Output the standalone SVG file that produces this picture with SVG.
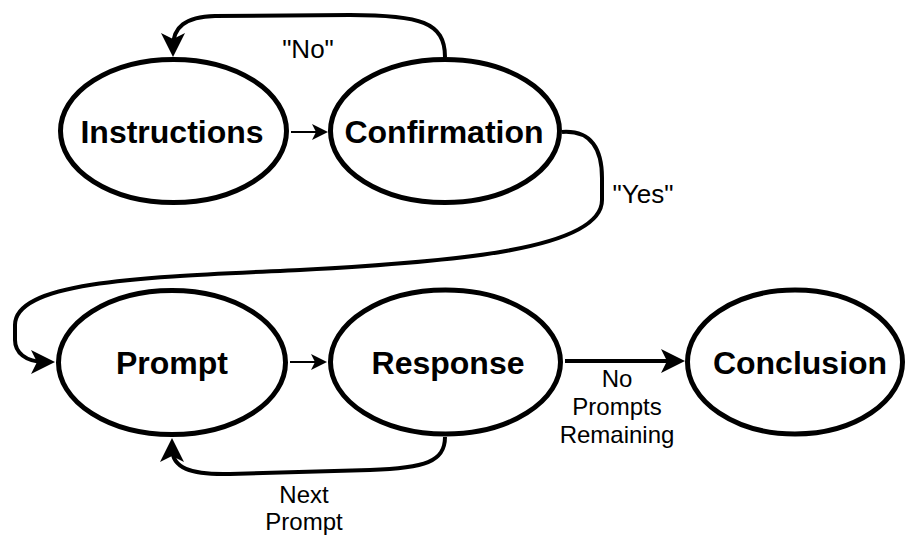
<svg xmlns="http://www.w3.org/2000/svg" width="907" height="537" viewBox="0 0 907 537">
<style>
.node ellipse{fill:#fff;stroke:#000;stroke-width:5}
.node text{font-family:"Liberation Sans",Arial,sans-serif;font-weight:bold;font-size:32px;text-anchor:middle;fill:#000}
.edge{fill:none;stroke:#000;stroke-width:4}
.thin{fill:none;stroke:#000;stroke-width:2}
.lbl{font-family:"Liberation Sans",Arial,sans-serif;font-size:24px;text-anchor:middle;fill:#000}
.q{font-size:26px}
</style>
<defs>
<marker id="big" markerUnits="userSpaceOnUse" viewBox="-16 -14 28 28" markerWidth="28" markerHeight="28" refX="0" refY="0" orient="auto">
<path d="M10,0 L-14,-12 L-8,0 L-14,12 Z" fill="#000"/>
</marker>
<marker id="small" markerUnits="userSpaceOnUse" viewBox="-10 -10 20 20" markerWidth="20" markerHeight="20" refX="0" refY="0" orient="auto">
<path d="M8,0 L-8,-8 L-4,0 L-8,8 Z" fill="#000"/>
</marker>
</defs>
<rect width="907" height="537" fill="#fff"/>
<g id="connectors">
<path class="edge" d="M445,57 C445,22 420,15 350,15 L215,16 C185,17 173,27 173,47" marker-end="url(#big)"/>
<path class="thin" d="M291,132 L320,132" marker-end="url(#small)"/>
<path class="edge" d="M562,132 C592,130 602,150 602,178 L602,200 C602,250 450,262 300,270 C150,277 15,280 15,325 L15,340 C15,352 25,362 45,362" marker-end="url(#big)"/>
<path class="thin" d="M290,362 L319,362" marker-end="url(#small)"/>
<path class="edge" d="M565,361 L675,361" marker-end="url(#big)"/>
<path class="edge" d="M445,437 C445,462 425,468 370,470 L230,474 C190,475 172,468 172,448" marker-end="url(#big)"/>
<text class="lbl q" x="308" y="58">"No"</text>
<text class="lbl q" x="643" y="203">"Yes"</text>
<text class="lbl" x="617" y="387">No</text>
<text class="lbl" x="617" y="415">Prompts</text>
<text class="lbl" x="617" y="443">Remaining</text>
<text class="lbl" x="304" y="503">Next</text>
<text class="lbl" x="304" y="530">Prompt</text>
</g>
<g id="instructions" class="node"><ellipse cx="173.5" cy="131" rx="113" ry="71.5"/><text x="172" y="143">Instructions</text></g>
<g id="confirmation" class="node"><ellipse cx="445" cy="131" rx="114.5" ry="71.5"/><text x="444" y="143">Confirmation</text></g>
<g id="prompt" class="node"><ellipse cx="172" cy="362.5" rx="113.5" ry="72"/><text x="172" y="374">Prompt</text></g>
<g id="response" class="node"><ellipse cx="445.5" cy="362" rx="115" ry="72"/><text x="448" y="374">Response</text></g>
<g id="conclusion" class="node"><ellipse cx="795" cy="362" rx="107.5" ry="72"/><text x="800" y="374">Conclusion</text></g>
</svg>
